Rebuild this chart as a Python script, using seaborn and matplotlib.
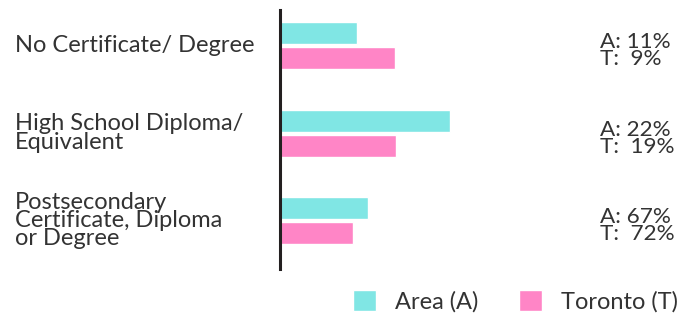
import numpy as np
import pandas as pd
import seaborn as sns
import matplotlib.pyplot as plt
import matplotlib.transforms as mtransforms

# data
categories = ["No Certificate/ Degree",
              "High School Diploma/\nEquivalent",
              "Postsecondary\nCertificate, Diploma\nor Degree"]
regions = ["Area (A)", "Toronto (T)"]
bar_area = [77, 170, 88]       # bar lengths as drawn
bar_toronto = [115, 116, 73]
label_area = ["11%", "22%", "67%"]
label_toronto = ["9%", "19%", "72%"]

colors = ["#80E6E4", "#FF85C6"]

df = pd.DataFrame({
    "category": categories * 2,
    "region": [regions[0]] * 3 + [regions[1]] * 3,
    "value": bar_area + bar_toronto,
})

sns.set_style("white")
plt.rcParams['font.family'] = ['Lato', 'DejaVu Sans']
txt_color = "#333333"

fig = plt.figure(figsize=(6.97, 3.18), dpi=100)
ax = fig.add_axes([280 / 697, 49 / 318, 300 / 697, 259 / 318])

sns.barplot(data=df, y="category", x="value", hue="region", orient="h",
            palette=colors, width=0.571, gap=0.12, saturation=1,
            ax=ax, legend=True)

ax.set_xlim(0, 300)
ax.set_ylim(2.554, -0.406)
ax.set_xlabel("")
ax.set_ylabel("")
ax.set_xticks([])
ax.set_yticks([])
for s in ["top", "right", "bottom"]:
    ax.spines[s].set_visible(False)
ax.spines["left"].set_color("#231F20")
ax.spines["left"].set_linewidth(2.2)

handles, labels = ax.get_legend_handles_labels()
ax.get_legend().remove()

trans = mtransforms.blended_transform_factory(fig.transFigure, ax.transData)
for i, cat in enumerate(categories):
    ax.text(15 / 697, i, cat, transform=trans, ha="left", va="center",
            fontsize=17, color=txt_color, linespacing=0.85)
    ax.text(600 / 697, i + 0.06, "A: " + label_area[i] + "\nT:  " + label_toronto[i],
            transform=trans, ha="left", va="center",
            fontsize=16.2, color=txt_color, linespacing=0.82)

fig.legend(handles, labels, loc="center left",
           bbox_to_anchor=(353 / 697, 1 - 301.5 / 318), ncol=2,
           frameon=False, fontsize=17, handlelength=0.98, handleheight=0.98,
           handletextpad=0.8, columnspacing=1.7, borderpad=0, borderaxespad=0,
           labelcolor=txt_color)

fig.savefig("out.png", dpi=100, facecolor="white")
